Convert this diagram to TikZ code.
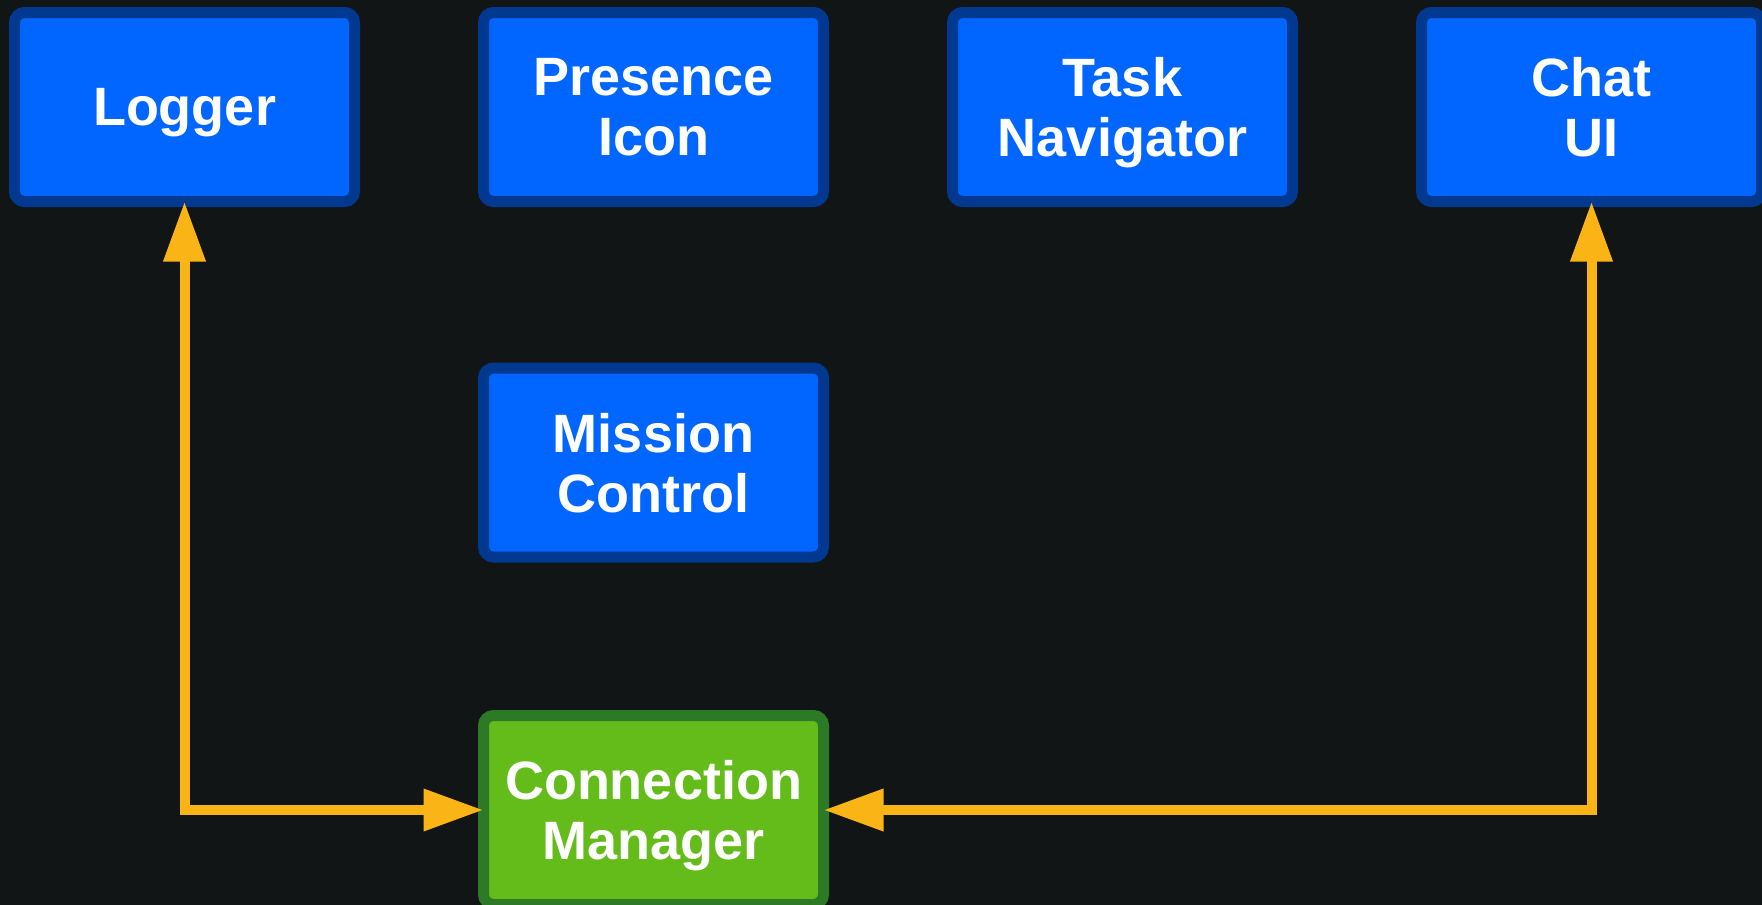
\documentclass[tikz,border=0pt]{standalone}
\usepackage{fontspec}
\setmainfont{Liberation Sans}
\usetikzlibrary{arrows.meta}
\definecolor{bg}{HTML}{111516}
\definecolor{bluefill}{HTML}{0066FF}
\definecolor{blueedge}{HTML}{00398F}
\definecolor{greenfill}{HTML}{64BC1A}
\definecolor{greenedge}{HTML}{2C7A25}
\definecolor{arrowc}{HTML}{FBB416}
\tikzset{
  box/.style={draw=blueedge, fill=bluefill, line width=11pt, rounded corners=10pt,
    minimum width=340pt, minimum height=189pt, outer sep=0pt, inner sep=0pt,
    text depth=0pt,
    align=center, text=white, font=\fontsize{54}{60}\selectfont\bfseries},
  gbox/.style={box, draw=greenedge, fill=greenfill},
  conn/.style={draw=arrowc, line width=10pt, {Triangle[length=60pt,width=40pt]}-{Triangle[length=60pt,width=40pt]}}
}
\begin{document}
\begin{tikzpicture}[x=1pt,y=1pt]
\fill[bg] (0,0) rectangle (1762,-905);
\useasboundingbox (0,0) rectangle (1762,-905);
\begin{scope}
\clip (0,0) rectangle (1762,-905);
\node[box] (logger) at (184.5,-107) {Logger};
\node[box] (presence) at (653.5,-107) {Presence\\Icon};
\node[box] (task) at (1122.5,-107) {Task\\Navigator};
\node[box] (chat) at (1591.5,-107) {Chat\\UI};
\node[box] (mission) at (653.5,-462.5) {Mission\\Control};
\node[gbox] (cm) at (653.5,-810) {Connection\\Manager};
\coordinate (lc) at (logger.south |- cm.west);
\coordinate (rc) at (chat.south |- cm.east);
\draw[conn] (logger.south) -- (lc) -- (cm.west);
\draw[conn] (chat.south) -- (rc) -- (cm.east);
\end{scope}
\end{tikzpicture}
\end{document}
